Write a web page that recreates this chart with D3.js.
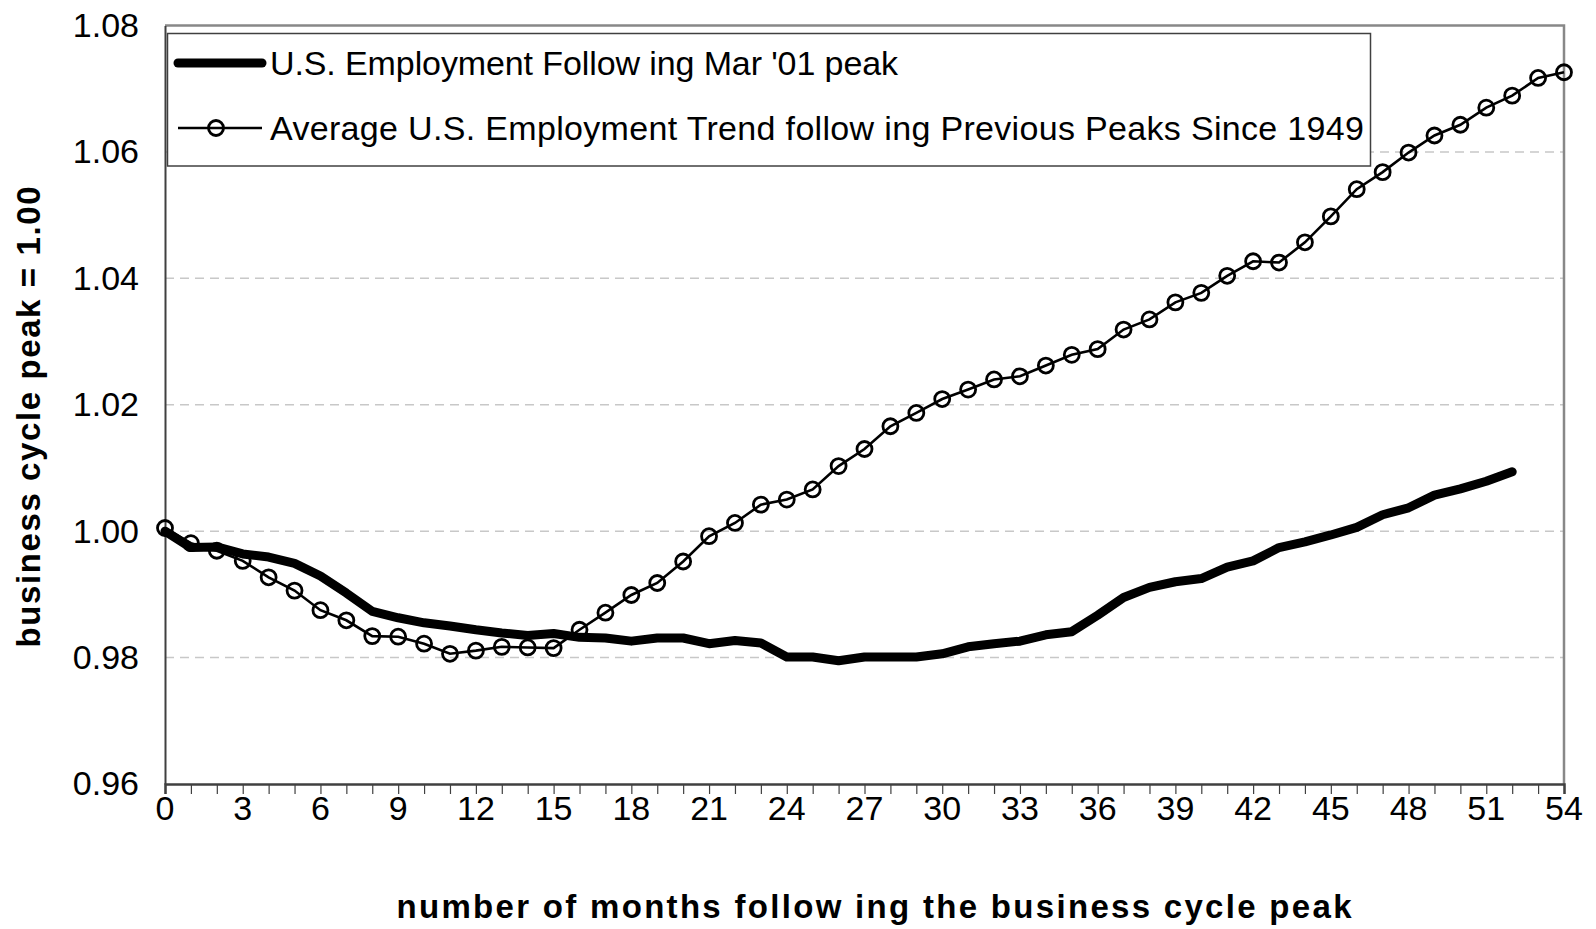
<!DOCTYPE html>
<html>
<head>
<meta charset="utf-8">
<script src="https://cdn.jsdelivr.net/npm/d3@7"></script>
<style>
  html, body { margin: 0; padding: 0; background: #fff; }
  svg { display: block; }
  text { font-family: "Liberation Sans", Arial, sans-serif; fill: #000; }
</style>
</head>
<body>
<svg id="chart" width="1596" height="929"></svg>
<script>
// values (index = months after the peak)
const employment2001 = [
  1.0000, 0.9974, 0.9975, 0.9964, 0.9959, 0.9949, 0.9929, 0.9902, 0.9873, 0.9863,
  0.9855, 0.9850, 0.9844, 0.9839, 0.9835, 0.9838, 0.9832, 0.9831, 0.9826, 0.9831,
  0.9831, 0.9822, 0.9827, 0.9823, 0.9801, 0.9801, 0.9795, 0.9801, 0.9801, 0.9801,
  0.9806, 0.9817, 0.9822, 0.9826, 0.9836, 0.9841, 0.9867, 0.9895, 0.9911, 0.9920,
  0.9925, 0.9943, 0.9953, 0.9974, 0.9983, 0.9994, 1.0006, 1.0026, 1.0037, 1.0057,
  1.0067, 1.0079, 1.0094
];
const averageTrend = [
  1.0005, 0.9981, 0.9969, 0.9953, 0.9927, 0.9906, 0.9875, 0.9859, 0.9834, 0.9833,
  0.9822, 0.9806, 0.9811, 0.9817, 0.9816, 0.9815, 0.9844, 0.9871, 0.9899, 0.9918,
  0.9952, 0.9992, 1.0013, 1.0042, 1.0050, 1.0066, 1.0103, 1.0130, 1.0166, 1.0187,
  1.0209, 1.0224, 1.0240, 1.0245, 1.0262, 1.0279, 1.0288, 1.0319, 1.0335, 1.0362,
  1.0377, 1.0404, 1.0427, 1.0425, 1.0457, 1.0498, 1.0541, 1.0568, 1.0599, 1.0626,
  1.0643, 1.0670, 1.0689, 1.0717, 1.0726
];
const yTicks = [0.96, 0.98, 1.00, 1.02, 1.04, 1.06, 1.08];
const xLabelTicks = [0, 3, 6, 9, 12, 15, 18, 21, 24, 27, 30, 33, 36, 39, 42, 45, 48, 51, 54];
const seriesNames = [
  "U.S. Employment Follow ing Mar '01 peak",
  "Average U.S. Employment Trend follow ing Previous Peaks Since 1949"
];
const legendWidths = [628, 1094];
const xTitle = "number of months follow ing the business cycle peak";
const yTitle = "business cycle peak = 1.00";

const svg = d3.select("#chart");
const plot = { left: 165, right: 1564, top: 25.5, bottom: 784 };

const x = d3.scaleLinear().domain([0, 54]).range([plot.left, plot.right]);
const y = d3.scaleLinear().domain([0.96, 1.08]).range([plot.bottom, plot.top]);

// gridlines (dashed)
svg.append("g")
  .selectAll("line")
  .data(yTicks.filter(v => v > 0.96 && v < 1.08))
  .join("line")
  .attr("x1", plot.left).attr("x2", plot.right)
  .attr("y1", d => y(d)).attr("y2", d => y(d))
  .attr("stroke", "#c8c8c8")
  .attr("stroke-width", 1.5)
  .attr("stroke-dasharray", "9,6");

// plot frame: top and right in grey
svg.append("path")
  .attr("d", `M${plot.left},${plot.top} H${plot.right} V${plot.bottom}`)
  .attr("fill", "none")
  .attr("stroke", "#888")
  .attr("stroke-width", 2.5);

// x axis: tick every month, labels every 3
const xAxis = d3.axisBottom(x)
  .tickValues(d3.range(0, 55))
  .tickSize(10)
  .tickFormat("");
const gx = svg.append("g").attr("transform", `translate(0,${plot.bottom})`).call(xAxis);
gx.select(".domain").attr("stroke", "#404040").attr("stroke-width", 2.5);
gx.selectAll(".tick line").attr("stroke", "#404040").attr("stroke-width", 1.2);

svg.append("g")
  .selectAll("text")
  .data(xLabelTicks)
  .join("text")
  .attr("x", d => x(d))
  .attr("y", 808)
  .attr("dy", "0.36em")
  .attr("text-anchor", "middle")
  .style("font-size", "34px")
  .text(d => d);

// y axis: line and labels, no ticks
const yAxis = d3.axisLeft(y)
  .tickValues(yTicks)
  .tickSize(0)
  .tickPadding(26)
  .tickFormat(d3.format(".2f"));
const gy = svg.append("g").attr("transform", `translate(${plot.left},0)`).call(yAxis);
gy.select(".domain").attr("stroke", "#404040").attr("stroke-width", 2);
gy.selectAll(".tick text")
  .style("font-size", "34px")
  .style("font-family", "'Liberation Sans', Arial, sans-serif")
  .attr("fill", "#000");

// axis titles
svg.append("text")
  .attr("x", 874)
  .attr("y", 918)
  .attr("text-anchor", "middle")
  .attr("textLength", 955)
  .attr("lengthAdjust", "spacing")
  .style("font-size", "33px")
  .style("font-weight", "bold")
  .text(xTitle);

svg.append("text")
  .attr("transform", "translate(40,417) rotate(-90)")
  .attr("text-anchor", "middle")
  .attr("textLength", 461)
  .attr("lengthAdjust", "spacing")
  .style("font-size", "33px")
  .style("font-weight", "bold")
  .text(yTitle);

// series
const line = d3.line().x((d, i) => x(i)).y(d => y(d));

svg.append("path")
  .datum(averageTrend)
  .attr("d", line)
  .attr("fill", "none")
  .attr("stroke", "#000")
  .attr("stroke-width", 2.6);

svg.append("g")
  .selectAll("circle")
  .data(averageTrend)
  .join("circle")
  .attr("cx", (d, i) => x(i))
  .attr("cy", d => y(d))
  .attr("r", 7.5)
  .attr("fill", "none")
  .attr("stroke", "#000")
  .attr("stroke-width", 2.8);

svg.append("path")
  .datum(employment2001)
  .attr("d", line)
  .attr("fill", "none")
  .attr("stroke", "#000")
  .attr("stroke-width", 9)
  .attr("stroke-linejoin", "round")
  .attr("stroke-linecap", "round");

// legend
const legend = svg.append("g");
legend.append("rect")
  .attr("x", 167.5).attr("y", 33.5)
  .attr("width", 1203).attr("height", 132.5)
  .attr("fill", "#fff")
  .attr("stroke", "#404040")
  .attr("stroke-width", 1.5);

legend.append("line")
  .attr("x1", 178).attr("x2", 262).attr("y1", 63).attr("y2", 63)
  .attr("stroke", "#000").attr("stroke-width", 9).attr("stroke-linecap", "round");
legend.append("line")
  .attr("x1", 178).attr("x2", 262).attr("y1", 128).attr("y2", 128)
  .attr("stroke", "#000").attr("stroke-width", 2.6);
legend.append("circle")
  .attr("cx", 216).attr("cy", 128).attr("r", 7.5)
  .attr("fill", "none").attr("stroke", "#000").attr("stroke-width", 2.8);

legend.selectAll("text.entry")
  .data(seriesNames)
  .join("text")
  .attr("class", "entry")
  .attr("x", 270)
  .attr("y", (d, i) => 63 + i * 65)
  .attr("dy", "0.36em")
  .attr("textLength", (d, i) => legendWidths[i])
  .attr("lengthAdjust", "spacing")
  .style("font-size", "34px")
  .text(d => d);
</script>
</body>
</html>
